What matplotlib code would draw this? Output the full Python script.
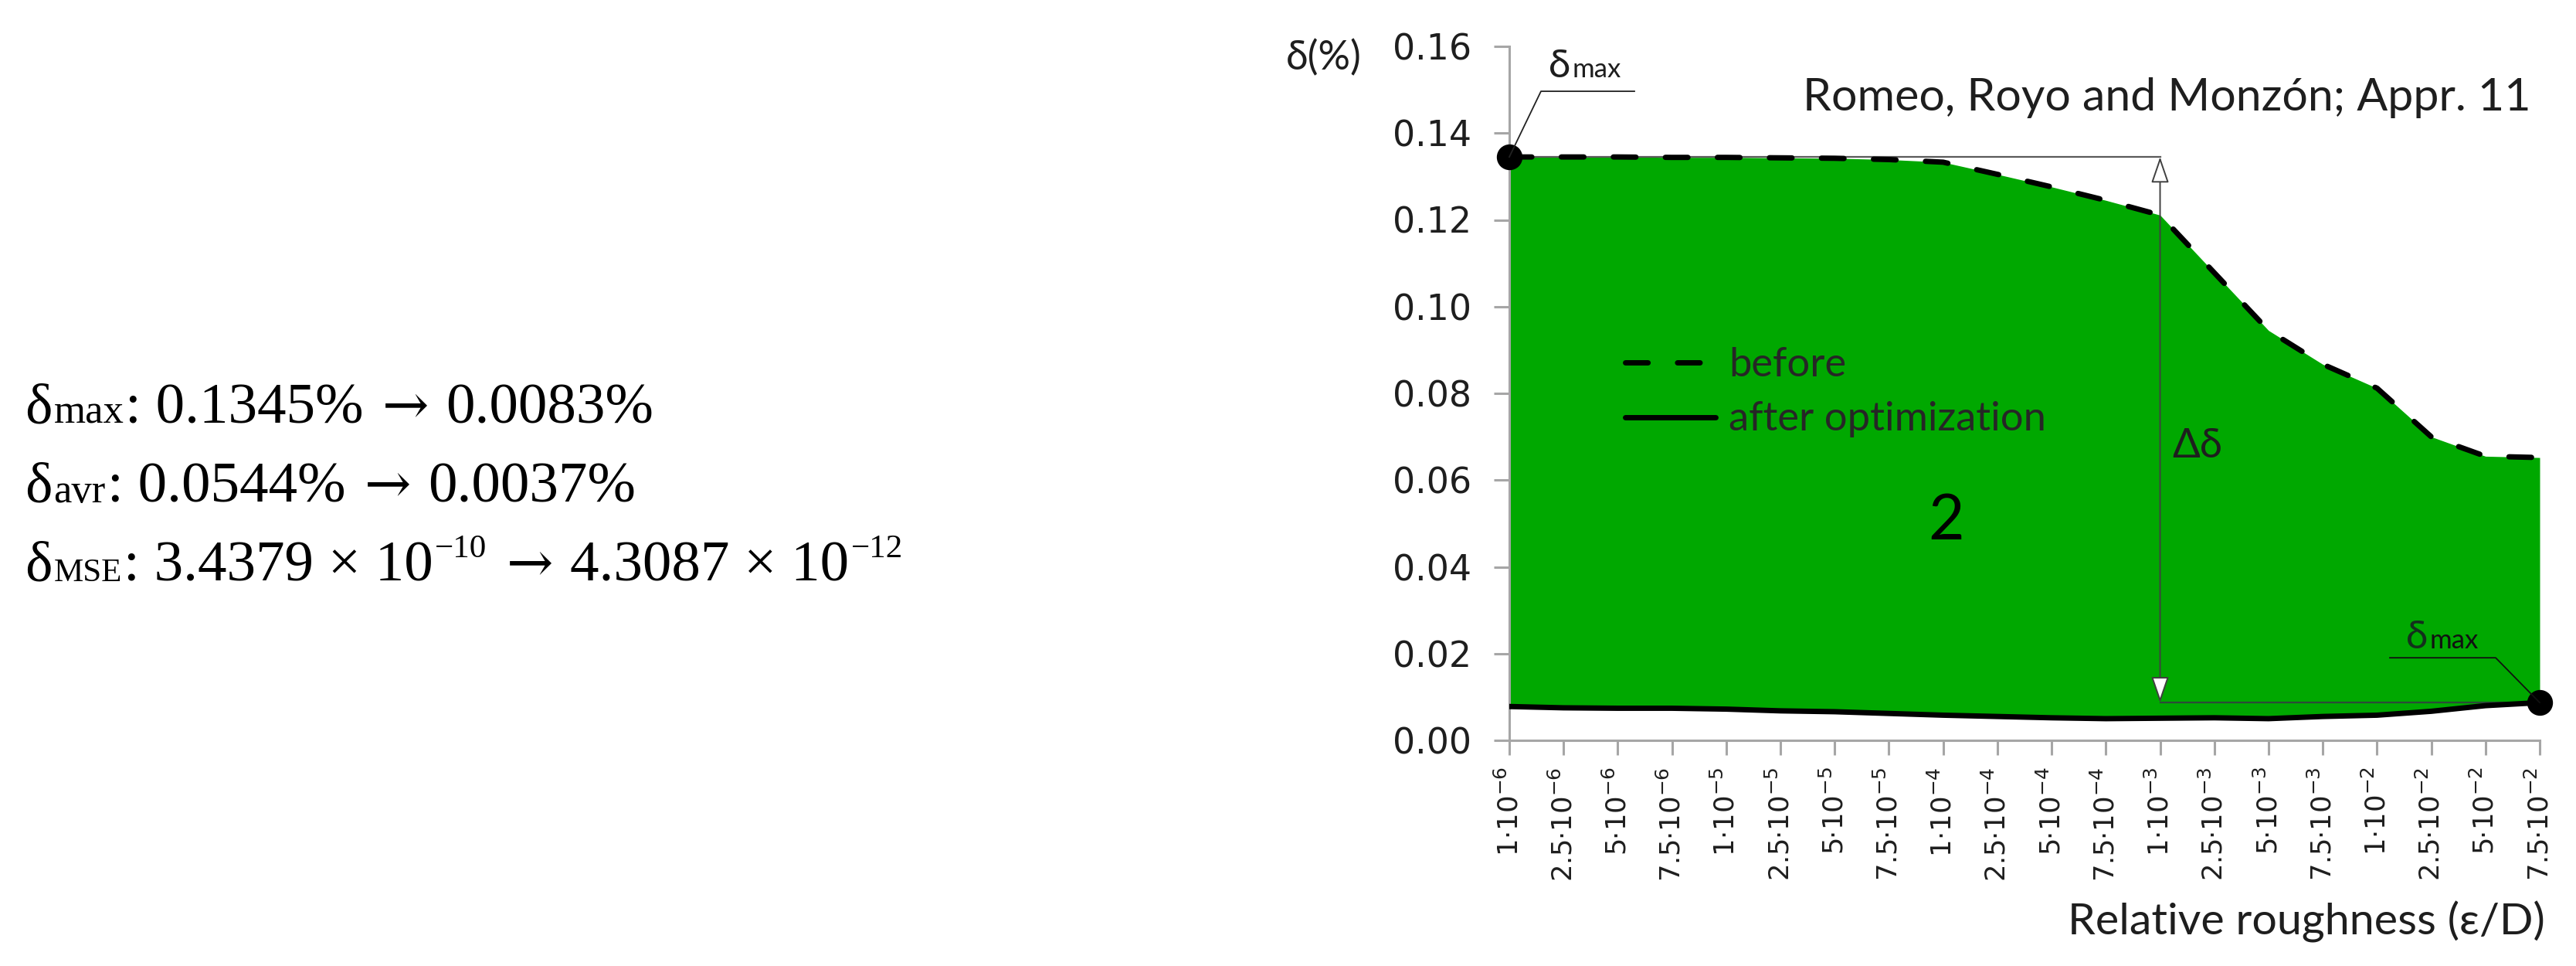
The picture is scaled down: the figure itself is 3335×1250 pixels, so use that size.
import numpy as np
import matplotlib
matplotlib.use('Agg')
import matplotlib.pyplot as plt
from matplotlib.transforms import IdentityTransform
from matplotlib.lines import Line2D
from matplotlib.patches import FancyArrowPatch

# ---------------- data ----------------
tick_labels = [
    '1·10$^{-6}$', '2.5·10$^{-6}$', '5·10$^{-6}$', '7.5·10$^{-6}$',
    '1·10$^{-5}$', '2.5·10$^{-5}$', '5·10$^{-5}$', '7.5·10$^{-5}$',
    '1·10$^{-4}$', '2.5·10$^{-4}$', '5·10$^{-4}$', '7.5·10$^{-4}$',
    '1·10$^{-3}$', '2.5·10$^{-3}$', '5·10$^{-3}$', '7.5·10$^{-3}$',
    '1·10$^{-2}$', '2.5·10$^{-2}$', '5·10$^{-2}$', '7.5·10$^{-2}$',
]
before = [0.1345, 0.1345, 0.1345, 0.1344, 0.1344, 0.1343, 0.1342, 0.1339,
          0.1333, 0.1305, 0.1276, 0.1245, 0.1211, 0.1078, 0.0945, 0.0867,
          0.0812, 0.0700, 0.0655, 0.0652]
after = [0.0078, 0.0075, 0.0074, 0.0074, 0.0072, 0.0068, 0.0066, 0.0062,
         0.0058, 0.0055, 0.0052, 0.0050, 0.0051, 0.0052, 0.0050, 0.0055,
         0.0058, 0.0067, 0.0080, 0.0087]
y_ticks = [0.00, 0.02, 0.04, 0.06, 0.08, 0.10, 0.12, 0.14, 0.16]
dmax_before = 0.1345
dmax_after = 0.0087
arrow_index = 12

title = 'Romeo, Royo and Monzón; Appr. 11'
x_label = 'Relative roughness (ε/D)'
y_label = 'δ(%)'
legend_labels = ['before', 'after optimization']
region_label = '2'
delta_label = 'Δδ'

# ---------------- figure ----------------
W, H = 3335, 1250
DPI = 100
SANS = ['Lato', 'Open Sans', 'DejaVu Sans']
SERIF = ['Liberation Serif', 'DejaVu Serif']
ARROWF = ['DejaVu Serif']
GREEN = '#00a800'
AXC = '#a6a6a6'
TXT = '#1e1e1e'

fig = plt.figure(figsize=(W / DPI, H / DPI), dpi=DPI)
R = fig.canvas.get_renderer()
ID = IdentityTransform()


def fit_width(t, target):
    w = t.get_window_extent(R).width
    t.set_fontsize(t.get_fontsize() * target / w)


ax = fig.add_axes([1954 / W, (H - 958) / H, (3288 - 1954) / W, 898 / H])
ax.set_xlim(0, len(before) - 1)
ax.set_ylim(0, 0.16)
x = np.arange(len(before))

ax.fill_between(x, after, before, color=GREEN, lw=0, zorder=1)

# delta-delta dimension lines
ax.plot([0, arrow_index], [dmax_before, dmax_before], color='#5a5a5a', lw=1.6,
        zorder=3)
ax.plot([arrow_index, len(x) - 1], [dmax_after, dmax_after], color='#2c4a38',
        lw=1.6, zorder=3)
arr = FancyArrowPatch((arrow_index, dmax_after), (arrow_index, dmax_before),
                      arrowstyle='<|-|>,head_length=2.1,head_width=0.72',
                      mutation_scale=10, fc='white', ec='#404040', lw=1.4,
                      shrinkA=0, shrinkB=0, zorder=3)
ax.add_patch(arr)

ax.plot(x, before, color='black', lw=5, dashes=(4.2, 5.5),
        dash_capstyle='round', zorder=4)
ax.plot(x, after, color='black', lw=5, solid_capstyle='round', zorder=4)

ax.plot([0], [dmax_before], 'o', ms=23, color='black', clip_on=False, zorder=6)
ax.plot([len(x) - 1], [dmax_after], 'o', ms=23, color='black', clip_on=False,
        zorder=6)

for s in ['top', 'right']:
    ax.spines[s].set_visible(False)
for s in ['left', 'bottom']:
    ax.spines[s].set_color(AXC)
    ax.spines[s].set_linewidth(2.2)

ax.set_yticks(y_ticks)
ax.set_yticklabels(['%.2f' % v for v in y_ticks], fontsize=33, color=TXT,
                   family='DejaVu Sans')
ax.set_xticks(x)
ax.set_xticklabels(tick_labels, rotation=90, fontsize=25.5, color=TXT,
                   family='DejaVu Sans')
ax.tick_params(axis='y', direction='out', color=AXC, width=2.2, length=14.4,
               pad=21)
ax.tick_params(axis='x', direction='out', color=AXC, width=2.2, length=13.7,
               pad=11)

# in-plot texts
ax.text(8.05, 0.0463, region_label, ha='center', va='baseline', fontsize=58,
        family=SANS, color='black', zorder=5)
ax.text(12.22, 0.0652, delta_label, ha='left', va='baseline', fontsize=38,
        family=SANS, color=TXT, zorder=5)

# legend (manual)
lg1 = Line2D([2103.5, 2221], [H - 469, H - 469], transform=ID, color='black',
             lw=5, dashes=(4.2, 5.5), dash_capstyle='round')
lg2 = Line2D([2103.5, 2221], [H - 540, H - 540], transform=ID, color='black',
             lw=5, solid_capstyle='round')
fig.add_artist(lg1)
fig.add_artist(lg2)
t1 = fig.text(2238, H - 487, legend_labels[0], transform=ID, fontsize=36,
              family=SANS, color='#262626', va='baseline', ha='left')
t2 = fig.text(2238, H - 557, legend_labels[1], transform=ID, fontsize=36,
              family=SANS, color='#262626', va='baseline', ha='left')
fit_width(t2, 411)
t1.set_fontsize(t2.get_fontsize())

# delta max leaders
mx, my = ax.transData.transform((0, dmax_before))
fig.add_artist(Line2D([mx, mx + 41, mx + 162], [my, my + 85, my + 85],
                      transform=ID, color='#222222', lw=1.3))
d1 = fig.text(mx + 51, my + 103, 'δ', transform=ID, fontsize=37, family=SANS,
              color=TXT, va='baseline', ha='left')
bb = d1.get_window_extent(R)
fig.text(bb.x1 + 2, my + 103, 'max', transform=ID, fontsize=25, family=SANS,
         color=TXT, va='baseline', ha='left')

bx, by = ax.transData.transform((len(x) - 1, dmax_after))
fig.add_artist(Line2D([bx, bx - 57, bx - 194], [by, by + 58, by + 58],
                      transform=ID, color='#111111', lw=1.3))
d2 = fig.text(bx - 173, by + 70, 'δ', transform=ID, fontsize=37, family=SANS,
              color='#13301c', va='baseline', ha='left')
bb = d2.get_window_extent(R)
fig.text(bb.x1 + 2, by + 70, 'max', transform=ID, fontsize=25, family=SANS,
         color='#111111', va='baseline', ha='left')

# title, axis labels
tt = fig.text(3277, H - 143, title, transform=ID, fontsize=40, family=SANS,
              color=TXT, ha='right', va='baseline')
fit_width(tt, 943)
xl = fig.text(3295, H - 1210, x_label, transform=ID, fontsize=38, family=SANS,
              color=TXT, ha='right', va='baseline')
fit_width(xl, 618)
yl = fig.text(1665, H - 75, y_label, transform=ID, fontsize=38, family=SANS,
              color=TXT, ha='left', va='center')
fit_width(yl, 98)


# left text block
def runs(x0, y_base, pieces):
    xc = x0
    for s, size, dy, gap, fam in pieces:
        xc += gap
        t = fig.text(xc, H - y_base + dy, s, transform=ID, fontsize=size,
                     family=fam, color='black', ha='left', va='baseline')
        xc = t.get_window_extent(R).x1


BIG, SUB, SUP, ARW = 54, 38, 31, 52
runs(32, 548, [('δ', BIG, 0, 0, SERIF), ('max', SUB, 0, 2, SERIF),
               (': 0.1345%', BIG, 0, 2, SERIF), ('→', ARW, 0, 24, ARROWF),
               ('0.0083%', BIG, 0, 22, SERIF)])
runs(32, 650, [('δ', BIG, 0, 0, SERIF), ('avr', SUB, 0, 2, SERIF),
               (': 0.0544%', BIG, 0, 2, SERIF), ('→', ARW, 0, 24, ARROWF),
               ('0.0037%', BIG, 0, 22, SERIF)])
runs(32, 752, [('δ', BIG, 0, 0, SERIF), ('MSE', 31, 0, 2, SERIF),
               (': 3.4379 × 10', BIG, 0, 2, SERIF),
               ('−10', SUP, 31, 2, SERIF), ('→', ARW, 0, 26, ARROWF),
               ('4.3087 × 10', BIG, 0, 22, SERIF),
               ('−12', SUP, 31, 2, SERIF)])

fig.savefig('out.png', dpi=DPI, facecolor='white')
